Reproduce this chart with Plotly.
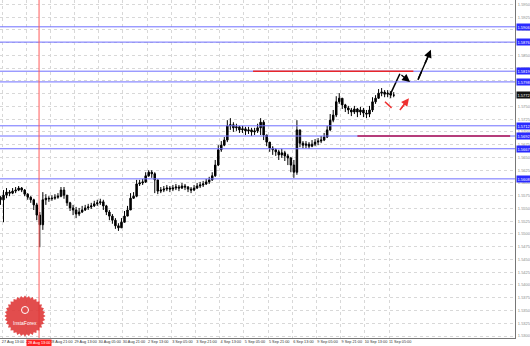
import math
import plotly.graph_objects as go

# ---------------- data ----------------
time_labels = ["27 Aug 13:00", "28 Aug 05:00", "28 Aug 21:00", "29 Aug 13:00", "30 Aug 05:00",
               "30 Aug 21:00", "2 Sep 13:00", "3 Sep 05:00", "3 Sep 21:00", "4 Sep 13:00",
               "5 Sep 05:00", "5 Sep 21:00", "6 Sep 13:00", "9 Sep 05:00", "9 Sep 21:00",
               "10 Sep 13:00", "11 Sep 05:00"]
bars_per_label = 16
bars_per_candle = 2
first_bar = -1

first_open = 1.5572
close = [1.5567, 1.5576, 1.5582, 1.5580, 1.5584, 1.5586, 1.5590, 1.5586, 1.5578, 1.5572,
         1.5567, 1.5557, 1.5537, 1.5518, 1.5567, 1.5570, 1.5569, 1.5570, 1.5572, 1.5574,
         1.5586, 1.5576, 1.5561, 1.5551, 1.5547, 1.5539, 1.5543, 1.5547, 1.5551, 1.5553,
         1.5555, 1.5559, 1.5561, 1.5563, 1.5555, 1.5543, 1.5535, 1.5527, 1.5516, 1.5512,
         1.5523, 1.5535, 1.5547, 1.5570, 1.5574, 1.5598, 1.5600, 1.5602, 1.5614, 1.5621,
         1.5618, 1.5606, 1.5584, 1.5586, 1.5588, 1.5590, 1.5588, 1.5590, 1.5592, 1.5590,
         1.5594, 1.5592, 1.5588, 1.5586, 1.5590, 1.5594, 1.5596, 1.5598, 1.5602, 1.5606,
         1.5614, 1.5635, 1.5665, 1.5674, 1.5684, 1.5712, 1.5714, 1.5708, 1.5710, 1.5704,
         1.5706, 1.5702, 1.5704, 1.5700, 1.5702, 1.5708, 1.5719, 1.5694, 1.5680, 1.5668,
         1.5665, 1.5661, 1.5655, 1.5659, 1.5653, 1.5649, 1.5635, 1.5621, 1.5704, 1.5678,
         1.5674, 1.5676, 1.5672, 1.5676, 1.5680, 1.5682, 1.5684, 1.5690, 1.5704, 1.5723,
         1.5733, 1.5759, 1.5766, 1.5753, 1.5747, 1.5743, 1.5739, 1.5745, 1.5739, 1.5743,
         1.5737, 1.5735, 1.5743, 1.5759, 1.5766, 1.5776, 1.5778, 1.5774, 1.5776, 1.5772,
         1.5772]
high = [1.5574, 1.5586, 1.5590, 1.5586, 1.5590, 1.5592, 1.5594, 1.5592, 1.5588, 1.5580,
        1.5574, 1.5569, 1.5561, 1.5543, 1.5582, 1.5578, 1.5574, 1.5576, 1.5578, 1.5580,
        1.5592, 1.5592, 1.5576, 1.5563, 1.5557, 1.5553, 1.5551, 1.5555, 1.5557, 1.5559,
        1.5561, 1.5565, 1.5567, 1.5569, 1.5567, 1.5557, 1.5547, 1.5539, 1.5531, 1.5521,
        1.5531, 1.5545, 1.5555, 1.5580, 1.5582, 1.5606, 1.5606, 1.5608, 1.5621, 1.5625,
        1.5625, 1.5621, 1.5594, 1.5592, 1.5594, 1.5596, 1.5594, 1.5596, 1.5598, 1.5596,
        1.5600, 1.5598, 1.5594, 1.5592, 1.5596, 1.5600, 1.5602, 1.5604, 1.5608, 1.5612,
        1.5621, 1.5645, 1.5674, 1.5682, 1.5690, 1.5723, 1.5727, 1.5719, 1.5716, 1.5712,
        1.5712, 1.5710, 1.5710, 1.5708, 1.5708, 1.5716, 1.5727, 1.5723, 1.5692, 1.5678,
        1.5672, 1.5668, 1.5665, 1.5667, 1.5663, 1.5657, 1.5651, 1.5645, 1.5723, 1.5704,
        1.5682, 1.5682, 1.5680, 1.5684, 1.5686, 1.5688, 1.5692, 1.5698, 1.5712, 1.5735,
        1.5743, 1.5770, 1.5776, 1.5766, 1.5755, 1.5751, 1.5747, 1.5751, 1.5747, 1.5749,
        1.5747, 1.5743, 1.5751, 1.5768, 1.5772, 1.5784, 1.5786, 1.5782, 1.5782, 1.5780,
        1.5778]
low = [1.5557, 1.5523, 1.5570, 1.5574, 1.5578, 1.5580, 1.5584, 1.5582, 1.5574, 1.5567,
       1.5561, 1.5547, 1.5527, 1.5474, 1.5508, 1.5557, 1.5563, 1.5565, 1.5567, 1.5569,
       1.5572, 1.5569, 1.5555, 1.5545, 1.5537, 1.5531, 1.5535, 1.5541, 1.5545, 1.5547,
       1.5549, 1.5553, 1.5555, 1.5557, 1.5547, 1.5537, 1.5527, 1.5520, 1.5510, 1.5506,
       1.5512, 1.5527, 1.5539, 1.5547, 1.5569, 1.5572, 1.5594, 1.5596, 1.5600, 1.5612,
       1.5610, 1.5580, 1.5578, 1.5580, 1.5582, 1.5584, 1.5582, 1.5584, 1.5586, 1.5584,
       1.5588, 1.5586, 1.5582, 1.5580, 1.5584, 1.5588, 1.5590, 1.5592, 1.5596, 1.5598,
       1.5604, 1.5612, 1.5633, 1.5661, 1.5672, 1.5680, 1.5704, 1.5700, 1.5702, 1.5698,
       1.5698, 1.5694, 1.5696, 1.5692, 1.5694, 1.5698, 1.5694, 1.5684, 1.5672, 1.5661,
       1.5655, 1.5653, 1.5645, 1.5649, 1.5643, 1.5635, 1.5621, 1.5610, 1.5616, 1.5670,
       1.5668, 1.5668, 1.5667, 1.5670, 1.5672, 1.5674, 1.5678, 1.5682, 1.5688, 1.5702,
       1.5719, 1.5729, 1.5755, 1.5745, 1.5739, 1.5735, 1.5731, 1.5735, 1.5729, 1.5733,
       1.5729, 1.5727, 1.5729, 1.5739, 1.5755, 1.5765, 1.5770, 1.5768, 1.5768, 1.5766,
       1.5768]

blue_levels = [1.5906, 1.5876, 1.5819, 1.5798, 1.5712, 1.5692, 1.5667, 1.5608]
red_level = 1.5819
red_level_bars = [166, 272]
magenta_level = 1.5692
magenta_level_bars = [235, 336]
bid_price = 1.5772
marker_bar = 24.5
marker_label = "28 Aug 13:00"

price_ticks_start = 1.5300
price_ticks_step = 0.0025
price_ticks_count = 27

# forecast sketches (bar, price)
black_path = [(256.5, 1.5772), (263.1, 1.5814)]
black_arrow_1 = [(263.1, 1.5814), (269.8, 1.5798)]
black_arrow_2 = [(275.0, 1.5802), (283.6, 1.5861)]
red_dash_1 = [(253.2, 1.5759), (259.8, 1.5741)]
red_arrow_2 = [(263.1, 1.5743), (269.1, 1.5766)]

# ---------------- figure ----------------
W, H = 530, 346
FONT = "Liberation Sans"
BOTTOM = 8  # px reserved for the time labels
n = len(close)
xs = [first_bar + bars_per_candle * i for i in range(n)]
opens = [first_open] + close[:-1]

fig = go.Figure()
fig.add_trace(go.Candlestick(
    x=xs, open=opens, high=high, low=low, close=close,
    increasing=dict(line=dict(color="black", width=1), fillcolor="black"),
    decreasing=dict(line=dict(color="black", width=1), fillcolor="black"),
    whiskerwidth=0, showlegend=False, hoverinfo="skip"))

BLUE = "#6e6eff"
x_lo, x_hi = -1.32, 339.2
shapes = []
for lv in blue_levels:
    shapes.append(dict(type="line", xref="x", yref="y", x0=x_lo, x1=x_hi, y0=lv, y1=lv,
                       line=dict(color=BLUE, width=1)))
shapes.append(dict(type="line", xref="x", yref="y", x0=red_level_bars[0], x1=red_level_bars[1],
                   y0=red_level, y1=red_level, line=dict(color="#e8262a", width=1.5)))
shapes.append(dict(type="line", xref="x", yref="y", x0=magenta_level_bars[0], x1=magenta_level_bars[1],
                   y0=magenta_level, y1=magenta_level, line=dict(color="#b5154f", width=1.5)))
shapes.append(dict(type="line", xref="x", yref="paper", x0=marker_bar, x1=marker_bar, y0=BOTTOM / H, y1=1,
                   line=dict(color="#ff5a5a", width=1)))

# InstaForex badge (decorative logo)
cx, cy, r_out, r_in, teeth = 25, 316, 20.5, 18.3, 32
pts = []
for k in range(teeth * 2):
    a = math.pi * k / teeth
    r = r_out if k % 2 == 0 else r_in
    pts.append((cx + r * math.cos(a), cy + r * math.sin(a)))
path = "M " + " L ".join(f"{px / W:.5f},{1 - py / H:.5f}" for px, py in pts) + " Z"
shapes.append(dict(type="path", xref="paper", yref="paper", path=path,
                   fillcolor="rgba(222,52,52,0.88)", line=dict(width=0), layer="above"))
shapes.append(dict(type="circle", xref="paper", yref="paper",
                   x0=(cx - 3.5) / W, x1=(cx + 3.5) / W, y0=1 - (310 + 3.5) / H, y1=1 - (310 - 3.5) / H,
                   line=dict(color="white", width=1), layer="above"))

annotations = []
# level labels on the right axis
for lv in blue_levels:
    annotations.append(dict(x=516 / W, xref="paper", y=lv, yref="y", text=f"{lv:.4f}", showarrow=False,
                            xanchor="left", font=dict(size=4, color="white", family=FONT),
                            bgcolor="#2a2aff", borderpad=0.5))
annotations.append(dict(x=516 / W, xref="paper", y=bid_price, yref="y", text=f"{bid_price:.4f}", showarrow=False,
                        xanchor="left", font=dict(size=4, color="white", family=FONT),
                        bgcolor="#111111", borderpad=0.5))
annotations.append(dict(x=marker_bar, xref="x", y=(BOTTOM - 0.5) / H, yref="paper", yanchor="top", xanchor="center",
                        text=marker_label, showarrow=False,
                        font=dict(size=3.8, color="white", family=FONT),
                        bgcolor="#ff2020", borderpad=1))
annotations.append(dict(x=cx / W, xref="paper", y=1 - 322.5 / H, yref="paper", text="InstaForex",
                        xanchor="center", yanchor="middle",
                        showarrow=False, font=dict(size=5, color="white", family=FONT)))
# forecast arrows
for seg, col in [(black_arrow_1, "black"), (black_arrow_2, "black"), (red_arrow_2, "#ee3030")]:
    (x0, y0), (x1, y1) = seg
    annotations.append(dict(x=x1, y=y1, ax=x0, ay=y0, xref="x", yref="y", axref="x", ayref="y",
                            text="", showarrow=True, arrowhead=2, arrowsize=1.2, arrowwidth=1.3,
                            arrowcolor=col))
fig.add_trace(go.Scatter(x=[p[0] for p in black_path], y=[p[1] for p in black_path], mode="lines",
                         line=dict(color="black", width=1.5), showlegend=False, hoverinfo="skip"))
fig.add_trace(go.Scatter(x=[p[0] for p in black_arrow_2], y=[p[1] for p in black_arrow_2], mode="lines",
                         line=dict(color="black", width=1.5, dash="dash"), showlegend=False, hoverinfo="skip"))
fig.add_trace(go.Scatter(x=[p[0] for p in red_dash_1], y=[p[1] for p in red_dash_1], mode="lines",
                         line=dict(color="#ee3030", width=1.5, dash="dash"), showlegend=False, hoverinfo="skip"))
fig.add_trace(go.Scatter(x=[p[0] for p in red_arrow_2], y=[p[1] for p in red_arrow_2], mode="lines",
                         line=dict(color="#ee3030", width=1.5, dash="dash"), showlegend=False, hoverinfo="skip"))

tick_vals_y = [round(price_ticks_start + price_ticks_step * k, 4) for k in range(price_ticks_count)]
tick_vals_x = [bars_per_label * i for i in range(len(time_labels))]

# y range keeps 0.000196 price per pixel over the plot height
plot_h = H - BOTTOM
y_top = 1.595856
y_bot = y_top - plot_h * 0.000196

fig.update_layout(
    width=W, height=H, margin=dict(l=0, r=0, t=0, b=0),
    paper_bgcolor="white", plot_bgcolor="white",
    shapes=shapes, annotations=annotations, showlegend=False,
    xaxis=dict(domain=[0, 515 / 530], range=[x_lo, x_hi], rangeslider=dict(visible=False),
               tickvals=tick_vals_x, ticktext=time_labels, ticklabelshift=11, ticklabelstandoff=-1,
               tickangle=0, ticklen=0, tickfont=dict(size=3.8, color="#333333", family=FONT),
               showgrid=True, gridcolor="#d8d8d8", griddash="dot", gridwidth=1,
               showline=True, linecolor="#777777", linewidth=1, mirror=True, ticks="", zeroline=False,
               automargin=False),
    yaxis=dict(domain=[BOTTOM / H, 1], range=[y_bot, y_top], side="right",
               tickvals=tick_vals_y, ticktext=[f"{v:.4f}" for v in tick_vals_y],
               tickfont=dict(size=4, color="#8a8a8a", family=FONT), ticklabelstandoff=1,
               showgrid=True, gridcolor="#d8d8d8", griddash="dot", gridwidth=1,
               showline=True, linecolor="#777777", linewidth=1, mirror=True, ticks="", zeroline=False,
               automargin=False),
)

fig.write_html("out.html")
